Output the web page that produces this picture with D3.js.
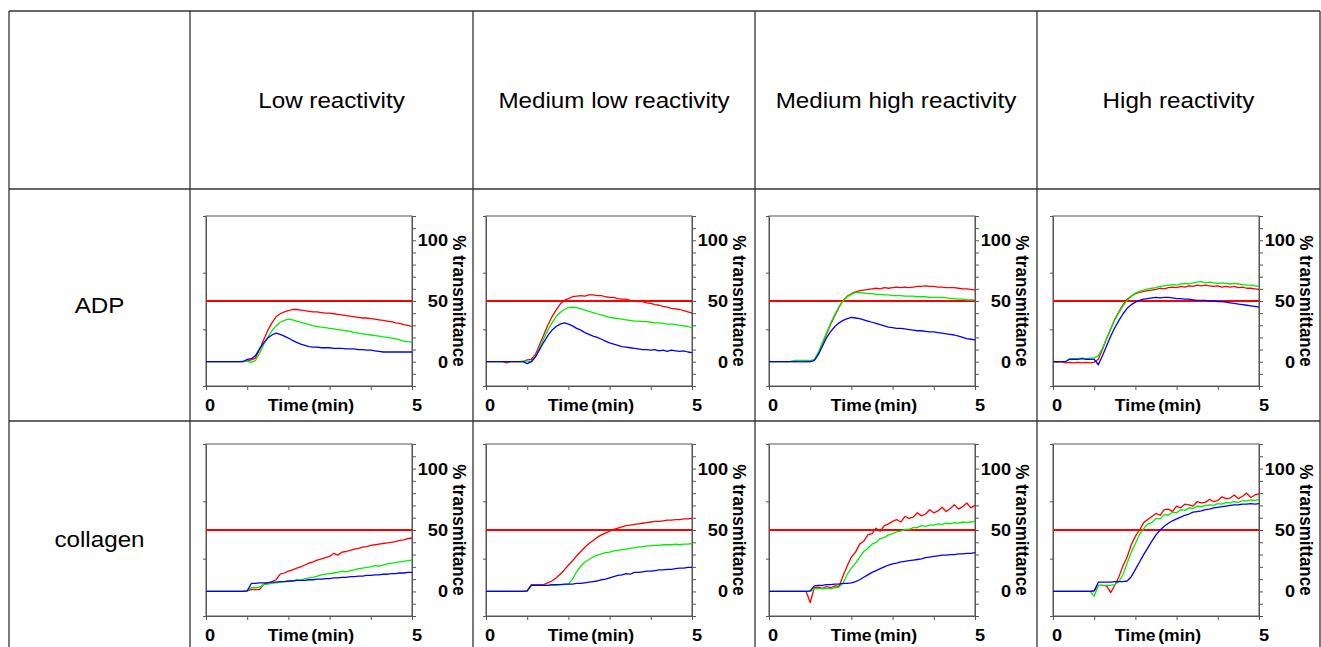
<!DOCTYPE html>
<html>
<head>
<meta charset="utf-8">
<script src="https://cdn.jsdelivr.net/npm/d3@7"></script>
<style>
  body { margin: 0; background: #fff; }
  svg { display: block; font-family: "Liberation Sans", Arial, sans-serif; }
</style>
</head>
<body>
<svg id="chart" width="1321" height="647"></svg>
<script>
// DATA
const columnTitles = ["Low reactivity", "Medium low reactivity", "Medium high reactivity", "High reactivity"];
const rowTitles = ["ADP", "collagen"];
const yTickLabels = [0, 50, 100];
const xTickLabels = [0, 5];
const threshold = 50;

const TIME = [0,0.1,0.2,0.3,0.4,0.5,0.6,0.7,0.8,0.9,1,1.1,1.2,1.3,1.4,1.5,1.6,1.7,1.8,1.9,
  2,2.1,2.2,2.3,2.4,2.5,2.6,2.7,2.8,2.9,3,3.1,3.2,3.3,3.4,3.5,3.6,3.7,3.8,3.9,
  4,4.1,4.2,4.3,4.4,4.5,4.6,4.7,4.8,4.9,5];

// ADP row
const adpLowRed = [0,0,0,0,0,0,0,0,0,0,
  1,1.5,3,10,18,26,32,37,39.5,41,
  42,43,43,42.5,42,41.5,41,41,40.5,40,
  40,39.5,39,38.5,38,37.5,37,36.5,36,36,
  35.5,35,34.5,34,33.5,33,32,31.5,30.5,30,
  29];
const adpLowGreen = [0,0,0,0,0,0,0,0,0,0.5,
  0.5,-0.5,1,7,14,20,25.5,29.5,32.5,34,
  35,34.5,33.5,32.5,31.5,30.5,29.5,29,28.5,28,
  27.5,27,26.5,26,25.5,25,24,23.5,23,22.5,
  22,21.5,21,20.5,20,19.5,19,18,17,16.5,
  16];
const adpLowBlue = [0,0,0,0,0,0,0,0,0,0,
  2,2.5,5,10.5,15.5,19.5,22,23.5,22.5,21,
  19.5,17.5,16,14.5,13.5,12.5,12,12,11.5,11.5,
  11.5,11,11,11,10.5,10.5,10.5,10,10,9.5,
  9.5,9,8.5,8,8,8,8,8,8,8,
  8];

const adpMedLowRed = [0,0,0,0,0,-1,0,0,0,0,
  1.5,2,6,14,22,30,37,42.5,47.5,50.5,
  52,53.5,54,54.5,54,55,55,54.5,54.5,53.5,
  53,53,52,51.5,51.5,50.5,50,49.5,49.5,48.5,
  48,47,46.5,45.5,45,44,43.5,43,42,41,
  40];
const adpMedLowGreen = [0,0,0,0,0,0,0,0,0,0.5,
  0.5,0,4,11,19,26,32,37,40.5,43,
  44.5,45,44.5,43.5,42.5,41.5,40.5,39.5,38.5,37.5,
  36.5,36,35.5,35,34.5,34,33.5,33.5,33,33,
  32.5,32,32,31.5,31,31,30.5,30,29.5,29,
  28];
const adpMedLowBlue = [0,0,0,0,0,0,0,0,0,0,
  -1.5,0,4,10,16,21.5,26,29,31,32,
  31,29.5,27.5,26,24,22.5,21,20,18.5,17,
  15.5,14.5,13.5,12.5,12,11.5,11,10.5,10,10,
  9.5,10,9,9.5,8.5,9.5,9,8.5,9,8,
  7.5];

const adpMedHighRed = [0,0,0,0,0,0,0,0,0,0,
  0,1,7,15,23,31,38,45,50.5,54,
  56,57.5,58.5,59,59.5,60,60.5,60,61,60.5,
  61,61.5,61,61.5,61,61.5,62,62,62.5,62,
  62,61.5,61.5,61,61,61,60.5,60,60,59.5,
  59];
const adpMedHighGreen = [0,0,0,0,0,0,1,1,1,1,
  1,2,8,16,24,32,39,45.5,50,53.5,
  55.5,57,57,56.5,56,56,55.5,55.5,55,55,
  54.5,54.5,54.5,54,54,54,53.5,53.5,53.5,53,
  53,53,53,52.5,52,52,51.5,51.5,51,51,
  51];
const adpMedHighBlue = [0,0,0,0,0,0,0,0,0,0,
  0,1,6,13,20,25,29,32,34,35.5,
  36.5,36,35.5,34.5,33.5,32.5,31.5,30.5,29.5,28.5,
  28,27.5,27.5,27,26.5,26,25.5,25.5,25,24.5,
  24.5,24,23.5,23,22.5,22,21,20,19,18.5,
  18];

const adpHighRed = [0,-0.5,0,-1,-0.5,-1,-0.5,-1,-0.5,-1,
  -0.5,2,10,19,27,35,41,47,51.5,54,
  56,57,58,58.5,59,59.5,60.5,60,61,61.5,
  61,62,61.5,62.5,62,63,62.5,63,62.5,62,
  62.5,61.5,62,61.5,62,61,61.5,60.5,60.5,60,
  59.5];
const adpHighGreen = [0,0,0,0,2.5,2.5,2.5,3,2.5,3,
  3,5,11,19,27,34.5,40.5,46,50.5,54,
  56.5,58,59,60,60.5,61,62,62.5,63,63.5,
  63,64,64.5,64,65,65.5,66,65,65.5,65,
  64.5,65,64.5,64,64.5,64,63.5,63,63,62.5,
  62];
const adpHighBlue = [0,0,0,0,2,2,2,2.5,2,2,
  2,-2.5,5,13,21,28,34,39.5,44,47,
  49,50.5,51.5,52,52.5,53,52.5,53,53,52.5,
  52,52,51.5,51.5,51,50.5,50.5,50.5,50,50,
  49.5,49.5,49,48.5,48,47.5,47,46.5,46,45.5,
  45];

// collagen row
const colLowRed = [0,0,0,0,0,0,0,0,0,0,
  0.5,1.5,1.5,1.5,6,7,8,9.5,14,15,
  16.5,17.5,19,20,21.5,23,24,25.5,26.5,27.5,
  28.5,31,29.5,32,32.5,33.5,34.5,35,36,36.5,
  37.5,38,38.5,39,39.5,40,40.5,41.5,42,43,
  43.5];
const colLowGreen = [0,0,0,0,0,0,0,0,0,0,
  0.5,3,3,3.5,5.5,6,6.5,7,7.5,8,
  8,8.5,9.5,9,10.5,11,11.5,12.5,13.5,14,
  14.5,15,15.5,16.5,16,17,17.5,18.5,19,19.5,
  20,21,20.5,21.5,22.5,23,23.5,24,24.5,25,
  25.5];
const colLowBlue = [0,0,0,0,0,0,0,0,0,0,
  0.5,6.5,6.5,7,7,7,7.5,7.5,8,8,
  8.5,8.5,9,9,9,9.5,9.5,10,10,10.5,
  10.5,11,11,11.5,11.5,12,12,12.5,12.5,13,
  13,13.5,13.5,14,14,14.5,14.5,15,15,15.5,
  15.5];

const colMedLowRed = [0,0,0,0,0,0,0,0,0,0,
  0.5,5.5,5.5,5.5,5.5,7,8.5,11,14,17.5,
  21.5,25,29,32.5,36,39,41.5,44,46,47.5,
  49,50.5,51.5,52.5,53.5,54,54.5,55,55.5,56,
  56.5,57,57,57.5,58,58,58.5,58.5,59,59,
  59.5];
const colMedLowGreen = [0,0,0,0,0,0,0,0,0,0,
  0.5,5,5,5,5,5,5,5,5.5,5.5,
  6,10,16,20.5,24,26,28,29.5,30.5,31.5,
  32,33,33.5,34,34.5,35,35.5,36,36.5,37,
  37,37.5,37.5,38,38,38,38.5,38,38.5,38.5,
  39];
const colMedLowBlue = [0,0,0,0,0,0,0,0,0,0,
  0.5,5,5,5,5,5,5.5,5.5,5.5,6,
  6,6,6.5,6.5,7,7.5,8,8.5,9.5,10,
  11,12,13,13.5,14.5,14,15.5,15.5,16,16.5,
  16.5,17,17.5,17.5,18,18,18.5,19,19,19.5,
  19.5];

const colMedHighRed = [0,0,0,0,0,0,0,0,0,0,
  -9,3,3.5,2.5,4,3,4.5,4,13,21,
  28,32,38.5,41,46,47,51.5,49,53.5,55,
  57,58.5,56.5,61,59.5,60.5,64,61.5,63,66.5,
  64,65.5,68.5,65,67.5,70.5,67,69,72,68,
  70];
const colMedHighGreen = [0,0,0,0,0,0,0,0,0,0,
  0,2,2.5,2,2.5,2,3,3.5,7,14,
  19,23,28,32.5,35,38.5,40,43,44,46,
  47,48.5,49,50.5,50.5,52,52,53.5,53,54,
  54,55,54.5,55.5,55,56,55.5,56.5,56,56.5,
  57];
const colMedHighBlue = [0,0,0,0,0,0,0,0,0,0,
  0.5,4.5,5,5,5.5,5.5,6,6,6.5,6.5,
  7,8,9.5,11.5,13.5,15.5,17,18.5,20,21.5,
  22.5,23,24,24.5,25,25.5,26,26.5,27.5,28,
  28.5,29,29.5,29.5,30,30,30.5,30.5,31,31,
  31.5];

const colHighRed = [0,0,0,0,0,0,0,0,0,0,
  0.5,5,5,4.5,-1,5,12,21,28,38,
  45,50,56,58.5,61,63.5,62,66.5,67,65,
  69.5,68,71,70.5,69.5,73,72,72.5,75,73,
  74,77,75.5,76,78.5,75.5,77.5,80,76.5,78.5,
  79.5];
const colHighGreen = [0,0,0,0,0,0,0,0,0,0,
  -4,5,5,5,5,5.5,8,14,23,32,
  39,46.5,51,55,56,59.5,59,62.5,62,64.5,
  64,66.5,66,68,67.5,69.5,69,70,70.5,70,
  71.5,71,72.5,72,73,72.5,74,73.5,74.5,74,
  75];
const colHighBlue = [0,0,0,0,0,0,0,0,0,0,
  0.5,7.5,7.5,7.5,7.5,8,8,8,8.5,12,
  18,24,30,35.5,41,46,50,53,55.5,57.5,
  59,60.5,62,63,64.5,65,65.5,66.5,67,68,
  68.5,69,69.5,70,70.5,70.5,71,71,71.5,71,
  71.5];

const seriesColors = ["#ff0000", "#00ee00", "#0000ff"];

const panels = [
  { row: 0, col: 0, series: [adpLowRed, adpLowGreen, adpLowBlue] },
  { row: 0, col: 1, series: [adpMedLowRed, adpMedLowGreen, adpMedLowBlue] },
  { row: 0, col: 2, series: [adpMedHighRed, adpMedHighGreen, adpMedHighBlue] },
  { row: 0, col: 3, series: [adpHighRed, adpHighGreen, adpHighBlue] },
  { row: 1, col: 0, series: [colLowRed, colLowGreen, colLowBlue] },
  { row: 1, col: 1, series: [colMedLowRed, colMedLowGreen, colMedLowBlue] },
  { row: 1, col: 2, series: [colMedHighRed, colMedHighGreen, colMedHighBlue] },
  { row: 1, col: 3, series: [colHighRed, colHighGreen, colHighBlue] }
];

// LAYOUT
const svg = d3.select("#chart");
const width = +svg.attr("width");
const height = +svg.attr("height");

svg.append("rect").attr("width", width).attr("height", height).attr("fill", "#fff");

const colX = [9, 190, 473, 755, 1037, 1320];
const rowY = [11, 189, 421, 657];
const plotLeft = [206, 486, 769, 1053];
const plotW = 206;
const plotTop = [216, 444];
const plotH = [170, 172];

// text is slightly wider than tall in the picture
function stretchText(parent, x, y, str, size, weight, anchor) {
  return parent.append("text")
    .attr("transform", `translate(${x},${y}) scale(1.1,1)`)
    .attr("text-anchor", anchor)
    .style("font-size", size + "px")
    .style("font-weight", weight)
    .attr("fill", "#000")
    .text(str);
}

// table grid
const grid = svg.append("g").attr("stroke", "#333").attr("stroke-width", 1.3);
colX.forEach(x => {
  grid.append("line").attr("x1", x).attr("x2", x).attr("y1", rowY[0]).attr("y2", rowY[3]);
});
rowY.forEach(y => {
  grid.append("line").attr("x1", colX[0]).attr("x2", colX[5]).attr("y1", y).attr("y2", y);
});

// header texts
columnTitles.forEach((t, i) => {
  stretchText(svg, (colX[i + 1] + colX[i + 2]) / 2, (rowY[0] + rowY[1]) / 2 + 7.7, t, 22, "normal", "middle");
});
rowTitles.forEach((t, i) => {
  stretchText(svg, (colX[0] + colX[1]) / 2, (rowY[i + 1] + rowY[i + 2]) / 2 + 7.7, t, 22, "normal", "middle");
});

// PANELS
panels.forEach(p => {
  const x0 = plotLeft[p.col];
  const y0 = plotTop[p.row];
  const h = plotH[p.row];

  const x = d3.scaleLinear().domain([0, 5]).range([x0, x0 + plotW]);
  const y = d3.scaleLinear().domain([-20, 120]).range([y0 + h, y0]);

  const g = svg.append("g");

  // frame
  g.append("rect")
    .attr("x", x0).attr("y", y0).attr("width", plotW).attr("height", h)
    .attr("fill", "none").attr("stroke", "#555").attr("stroke-width", 1);

  // axes (ticks only)
  const axisStyle = sel => {
    sel.selectAll("path").attr("stroke", "#555");
    sel.selectAll("line").attr("stroke", "#555");
    sel.selectAll("text").remove();
  };
  g.append("g").attr("transform", `translate(${x0 + plotW},0)`)
    .call(d3.axisRight(y).tickValues(d3.range(-20, 121, 10)).tickSize(4).tickSizeOuter(0))
    .call(axisStyle);
  g.append("g").attr("transform", `translate(${x0},0)`)
    .call(d3.axisLeft(y).tickValues([-20, 26.67, 73.33, 120]).tickSize(3).tickSizeOuter(0))
    .call(axisStyle);
  g.append("g").attr("transform", `translate(0,${y0 + h})`)
    .call(d3.axisBottom(x).tickValues([0, 1, 2, 3, 4, 5]).tickSize(4).tickSizeOuter(0))
    .call(axisStyle);

  // threshold line
  g.append("line")
    .attr("x1", x(0)).attr("x2", x(5))
    .attr("y1", y(threshold)).attr("y2", y(threshold))
    .attr("stroke", "#ff0000").attr("stroke-width", 2.2);

  // traces
  const line = d3.line().x((d, i) => x(TIME[i])).y(d => y(d));
  p.series.forEach((s, i) => {
    g.append("path")
      .datum(s)
      .attr("d", line)
      .attr("fill", "none")
      .attr("stroke", seriesColors[i])
      .attr("stroke-width", 1.3)
      .attr("stroke-linejoin", "round");
  });

  // right axis labels
  yTickLabels.forEach(v => {
    stretchText(g, x0 + plotW + 36, y(v) + 6, v, 16.5, "bold", "end");
  });
  stretchText(g, 0, 0, "% transmittance", 17, "bold", "middle")
    .attr("transform", `translate(${x0 + plotW + 41},${y0 + h / 2}) scale(1.1,1) rotate(90)`);

  // bottom labels
  xTickLabels.forEach(v => {
    stretchText(g, x(v) - (v === 0 ? 1 : 0), y0 + h + 25, v, 16.5, "bold", "start");
  });
  stretchText(g, x0 + plotW / 2 + 2, y0 + h + 25, "Time (min)", 16, "bold", "middle")
    .style("word-spacing", "-2px");
});
</script>
</body>
</html>
